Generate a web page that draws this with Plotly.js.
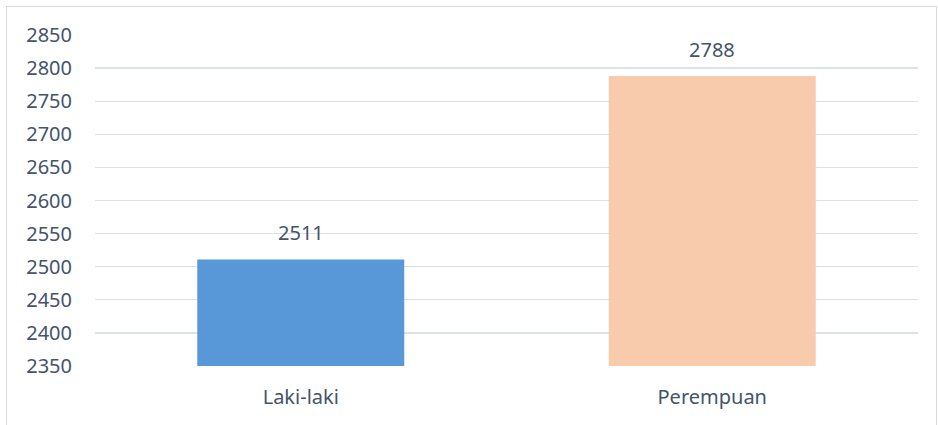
<!DOCTYPE html>
<html>
<head>
<meta charset="utf-8">
<script src="https://cdn.plot.ly/plotly-3.0.1.min.js"></script>
<style>
html,body{margin:0;padding:0;background:#fff;}
#wrap{position:relative;width:938px;height:425px;overflow:hidden;}
#chart{position:absolute;left:0;top:0;width:938px;height:425px;}
#frame{position:absolute;left:6px;top:6px;width:929px;height:430px;border:1px solid #D9D9D9;pointer-events:none;}
</style>
</head>
<body>
<div id="wrap"><div id="chart"></div><div id="frame"></div></div>
<script>
const categories = ["Laki-laki", "Perempuan"];
const values = [2511, 2788];
const barColors = ["#5898D8", "#F8CBAD"];
const yTicks = [2350, 2400, 2450, 2500, 2550, 2600, 2650, 2700, 2750, 2800, 2850];

const font = {family: "Noto Sans, Open Sans, sans-serif", size: 20, color: "#44546A"};

const trace = {
  type: "bar",
  x: categories,
  y: values,
  marker: {color: barColors, line: {width: 0}},
  hoverinfo: "none"
};

const annotations = categories.map((c, i) => ({
  x: c, y: values[i], text: String(values[i]),
  showarrow: false, yanchor: "bottom", yshift: 11,
  font: font
}));

const layout = {
  width: 938, height: 425,
  margin: {l: 95, r: 20, t: 35, b: 59},
  paper_bgcolor: "rgba(0,0,0,0)",
  plot_bgcolor: "rgba(0,0,0,0)",
  bargap: 0.497,
  showlegend: false,
  font: font,
  xaxis: {
    type: "category",
    showgrid: false, zeroline: false, showline: false,
    ticks: "", tickfont: font, ticklabelstandoff: 17
  },
  yaxis: {
    range: [2350, 2850], tickvals: yTicks, ticktext: yTicks.map(String),
    showgrid: true, gridcolor: "#DCE1E8", gridwidth: 1.4,
    zeroline: false, showline: false, ticks: "",
    tickfont: font, ticklabelstandoff: 22
  },
  annotations: annotations
};

Plotly.newPlot("chart", [trace], layout, {staticPlot: true, displayModeBar: false});
</script>
</body>
</html>
